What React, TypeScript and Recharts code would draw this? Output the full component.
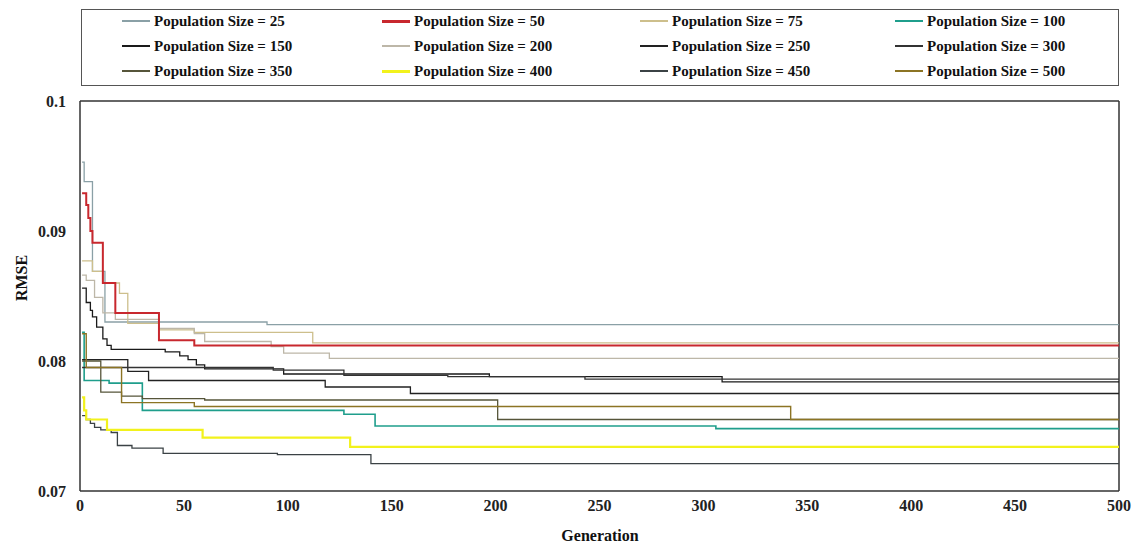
import React from 'react';
import { LineChart, Line, XAxis, YAxis, ReferenceLine } from 'recharts';

// ---- data ----
const populationSizes = [25, 50, 75, 100, 150, 200, 250, 300, 350, 400, 450, 500];
const xTicks = [0, 50, 100, 150, 200, 250, 300, 350, 400, 450, 500];
const yTicks = [0.07, 0.08, 0.09, 0.1];

const gen25 = [1, 2, 6, 12, 90, 500];
const rmse25 = [0.0953, 0.0938, 0.0869, 0.083, 0.0828, 0.0828];

const gen50 = [1, 3, 4, 5, 6, 11, 17, 38, 55, 500];
const rmse50 = [0.0929, 0.092, 0.091, 0.09, 0.0891, 0.086, 0.0837, 0.0816, 0.0812, 0.0812];

const gen75 = [1, 6, 11, 19, 23, 38, 55, 112, 500];
const rmse75 = [0.0877, 0.0869, 0.086, 0.0852, 0.0829, 0.0824, 0.0822, 0.0814, 0.0814];

const gen100 = [1, 2, 14, 30, 127, 142, 306, 500];
const rmse100 = [0.0822, 0.0785, 0.0783, 0.0762, 0.0759, 0.075, 0.0748, 0.0748];

const gen150 = [1, 3, 5, 6, 8, 11, 13, 15, 41, 48, 52, 56, 60, 98, 197, 309, 500];
const rmse150 = [0.0856, 0.0845, 0.0839, 0.0834, 0.0826, 0.0817, 0.0812, 0.0809, 0.0807, 0.0804, 0.0801, 0.0797, 0.0794, 0.079, 0.0788, 0.0784, 0.0784];

const gen200 = [1, 3, 7, 11, 17, 38, 55, 60, 92, 98, 120, 500];
const rmse200 = [0.0866, 0.0862, 0.0849, 0.0837, 0.0832, 0.0825, 0.0821, 0.0815, 0.0811, 0.0806, 0.0802, 0.0802];

const gen250 = [1, 23, 33, 118, 159, 500];
const rmse250 = [0.0801, 0.0792, 0.0785, 0.078, 0.0775, 0.0775];

const gen300 = [1, 93, 127, 177, 243, 500];
const rmse300 = [0.0795, 0.0793, 0.0789, 0.0788, 0.0786, 0.0786];

const gen350 = [1, 10, 20, 30, 60, 201, 500];
const rmse350 = [0.08, 0.0776, 0.0773, 0.0771, 0.077, 0.0755, 0.0755];

const gen400 = [1, 2, 3, 13, 59, 130, 500];
const rmse400 = [0.0772, 0.0762, 0.0755, 0.0747, 0.0741, 0.0734, 0.0734];

const gen450 = [1, 3, 5, 7, 10, 15, 18, 25, 40, 95, 140, 500];
const rmse450 = [0.0758, 0.0755, 0.0752, 0.0749, 0.0747, 0.0745, 0.0735, 0.0733, 0.0729, 0.0728, 0.0721, 0.0721];

const gen500 = [1, 3, 20, 55, 342, 500];
const rmse500 = [0.0821, 0.0795, 0.0768, 0.0765, 0.0755, 0.0755];

// ---- styles ----
const seriesGens: Record<number, number[]> = {
  25: gen25, 50: gen50, 75: gen75, 100: gen100, 150: gen150, 200: gen200,
  250: gen250, 300: gen300, 350: gen350, 400: gen400, 450: gen450, 500: gen500,
};
const seriesRmse: Record<number, number[]> = {
  25: rmse25, 50: rmse50, 75: rmse75, 100: rmse100, 150: rmse150, 200: rmse200,
  250: rmse250, 300: rmse300, 350: rmse350, 400: rmse400, 450: rmse450, 500: rmse500,
};
const colors: Record<number, string> = {
  25: '#8aa0a6', 50: '#c8282e', 75: '#cdbf8c', 100: '#1f9e8c', 150: '#1a1a1a', 200: '#bdb7a8',
  250: '#222222', 300: '#333333', 350: '#56553a', 400: '#f2f21c', 450: '#3b4245', 500: '#8c7424',
};
const widths: Record<number, number> = {
  25: 1.3, 50: 2, 75: 1.3, 100: 1.6, 150: 1.3, 200: 1.3,
  250: 1.3, 300: 1.3, 350: 1.3, 400: 2.2, 450: 1.3, 500: 1.4,
};
const drawOrder = [25, 75, 200, 100, 150, 250, 300, 350, 500, 450, 400, 50];

const FONT = '"Liberation Serif", "Times New Roman", serif';
const legendColX = [40, 300, 558, 813];
const legendRowY = [11, 36, 61];

const toPoints = (g: number[], v: number[]) => g.map((x, i) => ({ g: x, v: v[i] }));
const fmtY = (v: number) => String(+v.toFixed(2));

export default function App() {
  const tickStyle = { fontFamily: FONT, fontWeight: 700, fontSize: 16, fill: '#222' };
  return (
    <div style={{ position: 'absolute', left: 0, top: 0, width: 1133, height: 544, background: '#fff', fontFamily: FONT }}>
      <LineChart width={1133} height={544} margin={{ top: 101, right: 14, bottom: 0, left: 0 }}>
        <XAxis
          type="number"
          dataKey="g"
          domain={[0, 500]}
          ticks={xTicks}
          allowDataOverflow
          height={53}
          tickLine={false}
          tickSize={0}
          tickMargin={9}
          axisLine={{ stroke: '#333', strokeWidth: 1.5 }}
          tick={tickStyle}
        />
        <YAxis
          type="number"
          dataKey="v"
          domain={[0.07, 0.1]}
          ticks={yTicks}
          allowDataOverflow
          width={80}
          tickLine={false}
          tickSize={0}
          tickMargin={14}
          tickFormatter={fmtY}
          axisLine={{ stroke: '#333', strokeWidth: 1.5 }}
          tick={tickStyle}
        />
        <ReferenceLine y={0.1} stroke="#333" strokeWidth={1.5} />
        <ReferenceLine x={500} stroke="#333" strokeWidth={1.5} />
        {drawOrder.map((p) => (
          <Line
            key={p}
            data={toPoints(seriesGens[p], seriesRmse[p])}
            dataKey="v"
            type="stepAfter"
            stroke={colors[p]}
            strokeWidth={widths[p]}
            dot={false}
            activeDot={false}
            isAnimationActive={false}
          />
        ))}
      </LineChart>

      {/* legend */}
      <div style={{ position: 'absolute', left: 81, top: 9, width: 1036, height: 75, border: '1px solid #555' }}>
        {populationSizes.map((p, i) => {
          const c = i % 4;
          const r = Math.floor(i / 4);
          return (
            <div key={p} style={{ position: 'absolute', left: legendColX[c], top: legendRowY[r] - 9, height: 18, display: 'flex', alignItems: 'center', whiteSpace: 'nowrap' }}>
              <div style={{ width: 28, height: p === 400 || p === 50 ? 3 : 2, background: colors[p] }} />
              <span style={{ marginLeft: 4, fontFamily: FONT, fontWeight: 700, fontSize: 15, color: '#111' }}>
                {`Population Size = ${p}`}
              </span>
            </div>
          );
        })}
      </div>

      {/* axis titles */}
      <div style={{ position: 'absolute', left: 22, top: 278, transform: 'translate(-50%, -50%) rotate(-90deg)', fontFamily: FONT, fontWeight: 700, fontSize: 16, color: '#111', whiteSpace: 'nowrap' }}>
        RMSE
      </div>
      <div style={{ position: 'absolute', left: 600, top: 536, transform: 'translate(-50%, -50%)', fontFamily: FONT, fontWeight: 700, fontSize: 16, color: '#111', whiteSpace: 'nowrap' }}>
        Generation
      </div>
    </div>
  );
}
